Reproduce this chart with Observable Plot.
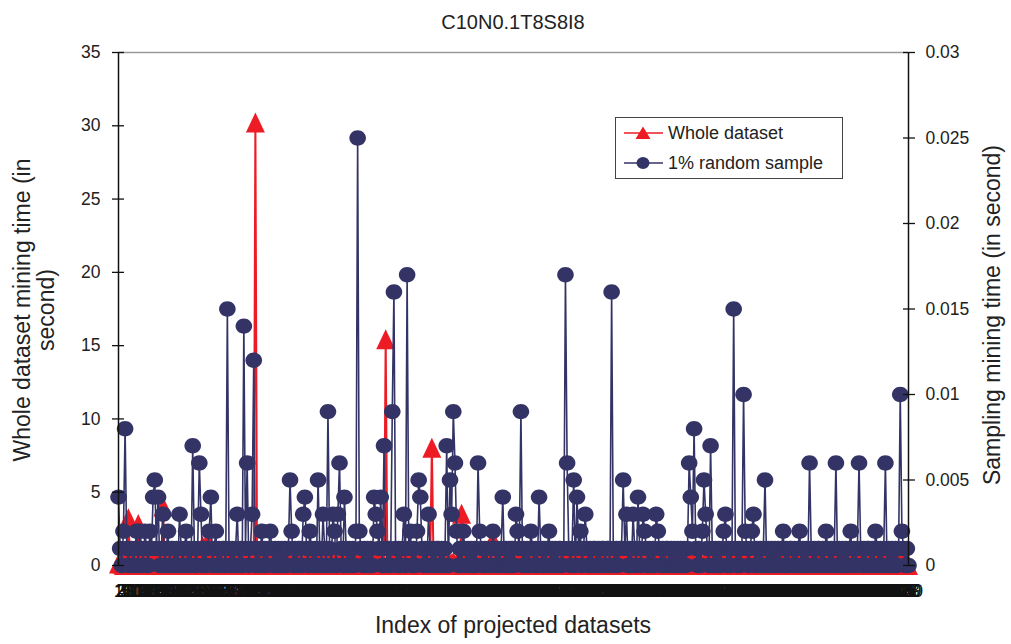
<!DOCTYPE html>
<html><head><meta charset="utf-8">
<script src="https://cdn.jsdelivr.net/npm/d3@7"></script>
<script src="https://cdn.jsdelivr.net/npm/@observablehq/plot@0.6"></script>
<style>
body{margin:0;background:#fff;font-family:"Liberation Sans",Arial,sans-serif;}
#wrap{position:relative;width:1011px;height:644px;overflow:hidden;background:#fff;}
#wrap svg.plot{position:absolute;left:0;top:0;}
.t{position:absolute;color:#222;white-space:nowrap;}
</style></head><body><div id="wrap"></div>
<script>
const chartTitle = "C10N0.1T8S8I8";
const xTitle = "Index of projected datasets";
const yLeftTitle = ["Whole dataset mining time (in", "second)"];
const yRightTitle = "Sampling mining time (in second)";
const seriesNames = ["Whole dataset", "1% random sample"];
const leftTicks = [0, 5, 10, 15, 20, 25, 30, 35];
const rightTicks = [0, 0.005, 0.01, 0.015, 0.02, 0.025, 0.03];

// Whole dataset mining time (s), left axis
const wholeTime = [
0.2,0.3,0.2,0.1,0.3,0.2,3.3,0.2,0.1,0.2,0.3,0.2,2.9,0.2,0.1,0.3,0.2,0.2,0.1,0.3,
0.2,0.1,0.3,0.2,0.2,0.1,0.3,4.1,0.2,0.1,0.2,0.3,0.1,0.2,0.2,0.1,0.3,0.2,0.1,0.2,
0.3,0.2,0.1,0.2,0.2,0.3,0.1,0.2,0.2,0.1,0.3,1.4,0.2,0.1,1.7,0.2,0.3,0.1,0.2,0.2,
0.1,0.2,0.3,0.2,0.1,0.2,0.2,0.3,0.1,0.2,0.2,0.1,0.3,0.2,0.2,0.1,0.2,0.3,0.1,0.2,
0.2,0.1,0.3,30.3,0.2,0.1,0.2,0.3,0.2,0.1,0.2,0.2,0.3,0.1,0.2,0.2,0.1,0.3,0.2,0.1,
0.2,0.3,0.1,0.2,0.2,0.1,0.3,0.2,0.1,0.2,0.2,0.3,0.1,0.2,0.2,0.1,0.3,0.2,0.2,0.1,
0.2,0.3,0.1,0.2,0.2,0.1,0.2,0.3,0.2,0.1,0.2,0.2,0.3,0.1,0.2,0.2,0.1,0.3,0.2,0.1,
0.2,0.2,0.3,0.1,0.2,0.2,0.1,0.3,0.2,0.2,0.1,0.2,0.3,0.2,0.1,0.2,0.2,0.3,0.1,0.2,
0.2,0.1,15.5,0.2,0.3,0.1,0.2,0.2,0.1,0.3,0.2,0.2,0.1,0.2,0.3,0.2,0.1,0.2,0.2,0.3,
0.1,0.2,0.2,0.3,0.1,0.2,0.2,0.1,0.3,0.2,8.1,0.2,0.1,0.3,0.2,0.2,0.1,0.2,0.3,0.2,
0.1,0.2,0.2,0.3,0.1,0.2,0.2,0.1,3.6,0.2,0.3,0.1,0.2,0.2,0.1,0.3,0.2,0.2,0.1,0.2,
0.3,0.2,0.1,0.2,0.2,0.3,0.1,1.8,0.2,0.2,0.1,0.3,0.2,0.2,0.1,0.2,0.3,0.2,0.1,0.2,
0.2,0.1,0.3,0.2,0.2,0.1,0.2,0.3,0.1,0.2,0.2,0.3,0.1,0.2,0.2,0.1,0.3,0.2,0.1,0.2,
0.2,0.3,0.1,0.2,0.2,0.1,0.3,0.2,0.2,0.1,0.2,0.3,0.2,0.1,0.2,0.2,0.3,0.1,0.2,0.2,
0.1,0.3,0.2,0.2,0.1,0.2,0.3,0.2,0.1,0.2,0.2,0.3,0.1,0.2,0.2,0.1,0.3,0.2,0.2,0.1,
0.2,0.2,0.3,0.1,0.2,0.2,0.1,0.3,0.2,0.1,0.2,0.2,0.3,0.1,0.2,0.2,0.1,0.3,0.2,0.2,
0.1,0.2,0.3,0.2,0.1,0.2,0.2,0.3,0.1,0.2,0.2,0.1,0.3,0.2,0.2,0.1,0.2,0.3,0.2,0.1,
0.2,0.2,0.3,0.1,0.2,0.2,0.1,0.3,0.2,0.2,0.1,0.2,0.3,0.2,0.1,0.2,0.2,0.3,0.1,0.2,
0.2,0.1,0.3,0.2,0.2,0.1,0.2,0.3,0.2,0.1,0.2,0.2,0.3,0.1,0.2,0.2,0.1,0.3,0.2,0.2,
0.1,0.2,0.3,0.2,0.1,0.2,0.2,0.3,0.1,0.2,0.2,0.1,0.3,0.2,0.2,0.1,0.2,0.3,0.2,0.1,
0.2,0.2,0.3,0.1,0.2,0.2,0.1,0.3,0.2,0.2,0.1,0.2,0.3,0.2,0.1,0.2,0.2,0.3,0.1,0.2,
0.2,0.1,0.3,0.2,0.2,0.1,0.2,0.3,0.2,0.1,0.2,0.2,0.3,0.1,0.2,0.2,0.1,0.3,0.2,0.2,
0.1,0.2,0.3,0.2,0.1,0.2,0.2,0.3,0.1,0.2,0.2,0.1,0.3,0.2,0.2,0.1,0.2,0.3,0.2,0.1,
0.2,0.2,0.3,0.1,0.2,0.2,0.1,0.3,0.2,0.2,0.1,0.2,0.3,0.2,0.1,0.2,0.2,0.3,0.2,0.1
];

// 1% random sample mining time (s), right axis
const samplingTime = [
.004,.001,0,.002,.008,.001,0,.001,.001,0,.001,.002,0,.002,.001,0,.002,.001,0,.002,
.001,.004,.005,.001,.004,0,.001,.003,0,.001,.002,0,.001,.001,0,.001,0,.003,.001,0,
.001,.002,0,.001,0,.007,.001,0,.001,.006,.003,0,.001,0,.001,.002,.004,0,.001,.002,
0,.001,0,.001,.001,0,.015,.001,0,.001,0,.001,.003,0,.001,0,.014,.001,.006,0,
.001,.003,.012,0,.001,0,.001,.002,0,.001,0,.001,.002,.001,0,.001,0,.001,0,.001,
0,.001,0,.001,.005,.002,0,.001,0,.001,.001,0,.003,.004,.001,0,.002,.001,0,.001,
0,.005,.001,0,.003,.001,0,.009,.001,0,.003,.002,0,.003,.006,.001,0,.004,.001,0,
.001,0,.001,0,.002,.025,.002,.001,0,.001,0,.001,0,.001,0,.004,.003,.002,.001,.004,
0,.007,.001,0,.001,0,.009,.016,.001,0,.001,0,.001,.003,0,.017,.001,.002,0,.001,
0,.002,.005,.004,.001,0,.001,0,.003,.001,0,.001,0,.001,.001,0,.001,0,.001,.007,
0,.005,.003,.009,.006,.002,0,.001,0,.002,.001,0,.001,0,.001,0,.001,0,.006,.002,
.001,0,.001,0,.001,.001,0,.002,.001,0,.001,0,.001,.004,0,.001,0,.001,0,.001,
0,.003,.002,.001,.009,0,.001,0,.001,0,.002,.001,0,.001,0,.004,.001,0,.001,0,
.001,.002,0,.001,0,.001,0,.001,.001,0,.001,.017,.006,.001,0,.001,.005,0,.004,.001,
.002,0,.001,.003,.001,0,.001,0,.001,.001,0,.001,0,.001,.001,0,.001,.001,0,.016,
.001,0,.001,0,.001,.001,.005,.001,.003,0,.001,0,.003,.001,0,.004,.001,0,.003,.002,
.001,0,.001,0,.001,0,.003,.002,.001,0,.001,0,.001,.001,0,.001,0,.001,0,.001,
0,.001,0,.001,0,.001,.006,.004,.002,.008,.001,0,.001,0,.002,.005,.003,.001,0,.007,
.001,0,.001,0,.001,0,.001,.002,.003,0,.001,0,.001,.015,.001,0,.001,0,.001,.010,
.002,.001,0,.001,.002,.003,0,.001,0,.001,0,.001,.005,0,.001,0,.001,0,.001,0,
.001,0,.001,.002,0,.001,0,.001,.001,0,.001,0,.001,.002,0,.001,0,.001,0,.006,
.001,0,.001,0,.001,.001,0,.001,0,.002,.001,0,.001,0,.001,.006,0,.001,0,.001,
0,.001,0,.001,.002,0,.001,0,.001,.006,.001,0,.001,0,.001,.001,0,.001,0,.002,
.001,0,.001,0,.001,.006,0,.001,0,.001,0,.001,0,.001,.010,.002,.001,0,.001,0
];

const datasetIndex = d3.range(1, wholeTime.length + 1);
const N = datasetIndex.length;
const RED = "#ed1c24", NAVY = "#333366";
const K = leftTicks[leftTicks.length - 1] / rightTicks[rightTicks.length - 1]; // right -> left scale

const rows = datasetIndex.map((d, i) => ({idx: d, whole: wholeTime[i], sample: samplingTime[i]}));

const triangle = {draw(ctx) { ctx.moveTo(0, -9); ctx.lineTo(9.5, 11); ctx.lineTo(-9.5, 11); ctx.closePath(); }};
const ellipse = {draw(ctx) {
  const rx = 8.3, ry = 7.7, k = 0.5523;
  ctx.moveTo(rx, 0);
  ctx.bezierCurveTo(rx, ry * k, rx * k, ry, 0, ry);
  ctx.bezierCurveTo(-rx * k, ry, -rx, ry * k, -rx, 0);
  ctx.bezierCurveTo(-rx, -ry * k, -rx * k, -ry, 0, -ry);
  ctx.bezierCurveTo(rx * k, -ry, rx, -ry * k, rx, 0);
  ctx.closePath();
}};

const chart = Plot.plot({
  width: 1011, height: 644,
  marginLeft: 118, marginRight: 103, marginTop: 52, marginBottom: 79,
  style: {fontFamily: '"Liberation Sans", Arial, sans-serif', fontSize: "17.5px", color: "#222", background: "transparent"},
  x: {type: "linear", domain: [1, N], axis: null},
  y: {domain: [0, 35], axis: null},
  marks: [
    Plot.ruleY([35], {stroke: "#9a9a9a", strokeWidth: 1.5}),
    Plot.line(rows, {x: "idx", y: "whole", stroke: RED, strokeWidth: 2}),
    Plot.dot(rows, {x: "idx", y: "whole", symbol: triangle, fill: RED, stroke: "none"}),
    Plot.line(rows, {x: "idx", y: d => d.sample * K, stroke: NAVY, strokeWidth: 1.6}),
    Plot.dot(rows, {x: "idx", y: d => d.sample * K, symbol: ellipse, fill: NAVY, stroke: "none"}),
    Plot.ruleX([1], {stroke: "#111", strokeWidth: 1.5}),
    Plot.ruleX([N], {stroke: "#111", strokeWidth: 1.5}),
    Plot.axisY({anchor: "left", ticks: leftTicks, tickSize: 12, dx: 6, tickFormat: () => "", label: null, stroke: "#111", strokeWidth: 1.3}),
    Plot.axisY({anchor: "left", ticks: leftTicks, tickSize: 0, tickPadding: 18, label: null, fill: "#222"}),
    Plot.axisY({anchor: "right", ticks: rightTicks.map(v => v * K), tickSize: 12, dx: -6, tickFormat: () => "", label: null, stroke: "#111", strokeWidth: 1.3}),
    Plot.axisY({anchor: "right", ticks: rightTicks.map(v => v * K), tickSize: 0, tickPadding: 17, label: null, fill: "#222",
      tickFormat: d => String(+(d / K).toFixed(4))}),
    Plot.axisX({ticks: datasetIndex, tickSize: 0, tickPadding: 19, tickFormat: d => String(d), label: null, fill: "#111"})
  ]
});
chart.classList.add("plot");
const wrap = document.getElementById("wrap");
wrap.appendChild(chart);

function addText(txt, css) {
  const el = document.createElement("div");
  el.className = "t";
  el.textContent = txt;
  Object.assign(el.style, css);
  wrap.appendChild(el);
  return el;
}
addText(chartTitle, {left: "118px", width: "790px", top: "9px", textAlign: "center", fontSize: "20px", lineHeight: "26px"});
addText(xTitle, {left: "118px", width: "790px", top: "611px", textAlign: "center", fontSize: "23px", lineHeight: "28px"});
const yl = addText("", {left: (34 - 200) + "px", top: (310 - 24) + "px", width: "400px", height: "48px", textAlign: "center",
  fontSize: "23px", lineHeight: "24px", transform: "rotate(-90deg)", transformOrigin: "50% 50%"});
yl.innerHTML = yLeftTitle.join("<br>");
addText(yRightTitle, {left: (992 - 200) + "px", top: (315 - 14) + "px", width: "400px", height: "28px", textAlign: "center",
  fontSize: "23px", lineHeight: "28px", transform: "rotate(-90deg)", transformOrigin: "50% 50%"});

// legend
const lg = document.createElement("div");
Object.assign(lg.style, {position: "absolute", left: "615px", top: "117px", width: "226px", height: "60px",
  border: "1px solid #444", background: "#fff"});
lg.innerHTML = `<svg width="60" height="60" style="position:absolute;left:0;top:0">
  <line x1="8" x2="47" y1="15" y2="15" stroke="${RED}" stroke-width="1.5"/>
  <path d="M27,8.5L34.5,21L19.5,21Z" fill="${RED}"/>
  <line x1="8" x2="47" y1="45" y2="45" stroke="${NAVY}" stroke-width="1.5"/>
  <ellipse cx="27" cy="45" rx="6.5" ry="6" fill="${NAVY}"/></svg>`;
seriesNames.forEach((s, i) => {
  const sp = document.createElement("div");
  sp.className = "t";
  sp.textContent = s;
  Object.assign(sp.style, {left: "52px", top: (4 + i * 30) + "px", fontSize: "18px", lineHeight: "22px"});
  lg.appendChild(sp);
});
wrap.appendChild(lg);
</script></body></html>
